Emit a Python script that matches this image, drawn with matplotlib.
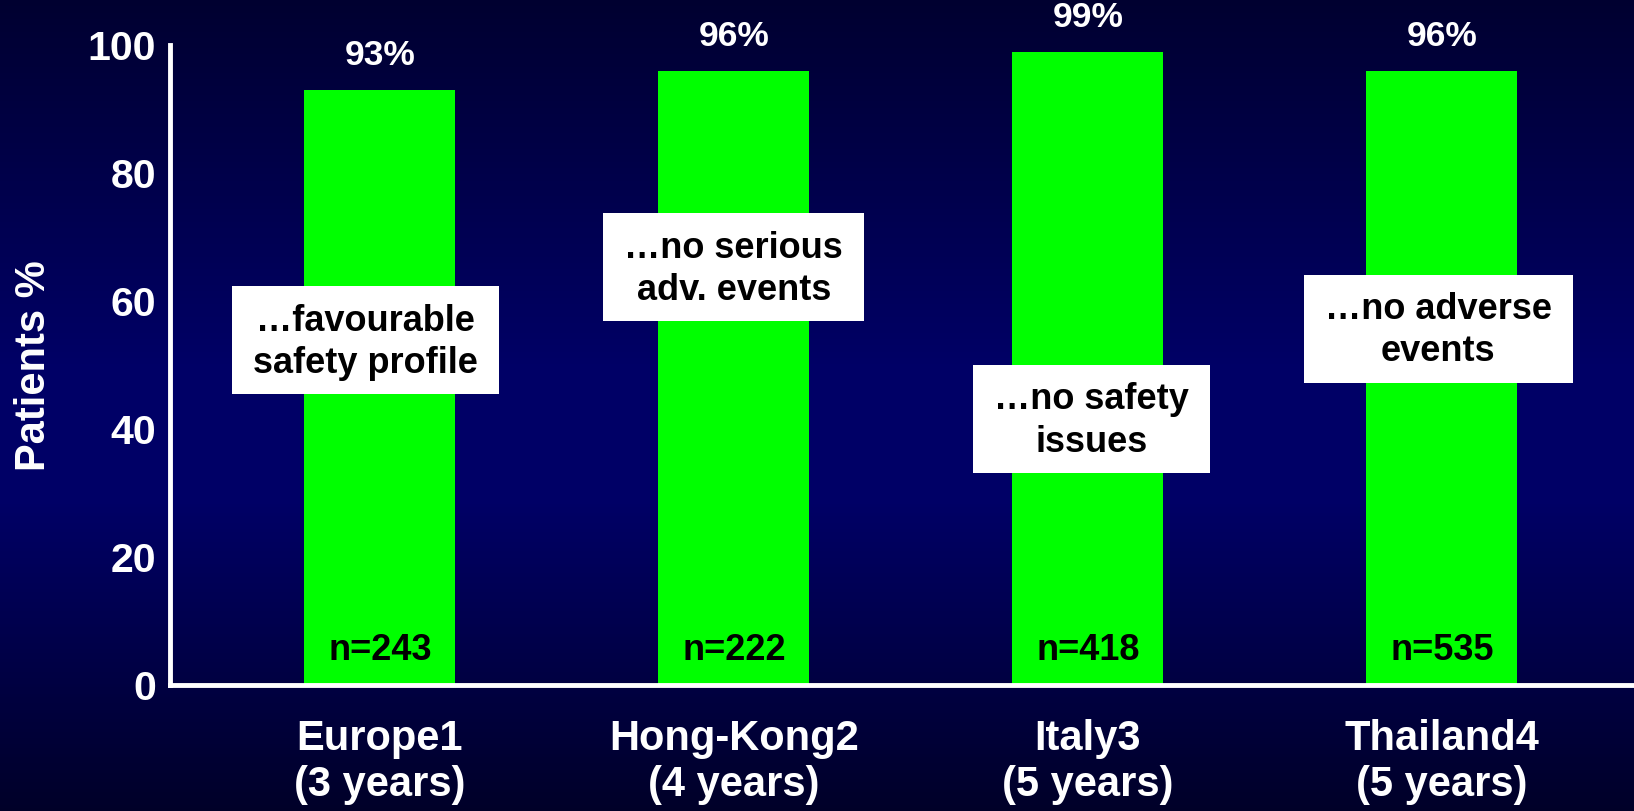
import numpy as np
import matplotlib
matplotlib.use("Agg")
import matplotlib.pyplot as plt
from matplotlib.colors import LinearSegmentedColormap
from matplotlib.patches import Rectangle

plt.rcParams['font.family'] = ['Liberation Sans', 'DejaVu Sans']
plt.rcParams['font.weight'] = 'bold'

studies = ['Europe1\n(3 years)', 'Hong-Kong2\n(4 years)', 'Italy3\n(5 years)', 'Thailand4\n(5 years)']
patients_pct = [93, 96, 99, 96]
n_patients = [243, 222, 418, 535]
notes = ['…favourable\nsafety profile', '…no serious\nadv. events',
         '…no safety\nissues', '…no adverse\nevents']
note_y = [53.6, 65.0, 41.3, 55.4]
note_dx = [-0.04, 0.0, 0.01, -0.01]

fig = plt.figure(figsize=(16.34, 8.11), dpi=100)

# navy background, brighter band across the middle
bg = fig.add_axes([0, 0, 1, 1], zorder=-10)
navy = LinearSegmentedColormap.from_list(
    'navy', [(0, (0, 0, 0.19)), (0.45, (0, 0, 0.40)), (0.62, (0, 0, 0.40)), (1, (0, 0, 0.16))])
grad = np.linspace(0, 1, 256).reshape(-1, 1)
bg.imshow(grad, aspect='auto', cmap=navy, extent=[0, 1, 0, 1])
bg.axis('off')

ax = fig.add_axes([0.104, 0.155, 0.896, 0.789])
ax.patch.set_alpha(0)

x = np.arange(len(studies))
bars = ax.bar(x, patients_pct, width=0.427, color='#00ff00', zorder=2)

for xi, v, n in zip(x, patients_pct, n_patients):
    ax.annotate(f'{v}%', (xi, v), xytext=(0, 18), textcoords='offset points',
                ha='center', va='baseline', color='white', fontsize=25.5, fontweight='bold')
    ax.text(xi, 4, f'n={n}', ha='center', va='baseline', color='black',
            fontsize=26, fontweight='bold', zorder=3)

note_texts = []
for xi, dx, y, txt in zip(x, note_dx, note_y, notes):
    t = ax.text(xi + dx, y, txt, ha='center', va='center', color='black', fontsize=26,
                fontweight='bold', linespacing=1.27, zorder=4)
    note_texts.append(t)

ax.set_xlim(-0.593, 3.543)
ax.set_ylim(0, 100)
ax.set_yticks([0, 20, 40, 60, 80, 100])
ax.set_xticks(x)
ax.set_xticklabels(studies, linespacing=1.2)
ax.tick_params(axis='y', length=0, pad=10, labelsize=29.5, labelcolor='white')
ax.tick_params(axis='x', length=0, pad=24, labelsize=30, labelcolor='white')
for lab in ax.get_xticklabels() + ax.get_yticklabels():
    lab.set_fontweight('bold')

ax.set_ylabel('Patients %', color='white', fontsize=30, fontweight='bold', labelpad=24)

for side in ['top', 'right']:
    ax.spines[side].set_visible(False)
for side in ['left', 'bottom']:
    ax.spines[side].set_color('white')
    ax.spines[side].set_linewidth(3.5)

# white boxes behind the notes: text width plus side margin, fixed height
fig.canvas.draw()
renderer = fig.canvas.get_renderer()
to_data = ax.transData.inverted()
for t in note_texts:
    bb = t.get_window_extent(renderer)
    cy = (bb.y0 + bb.y1) / 2 + 2
    x0, y0 = to_data.transform((bb.x0 - 21, cy - 54))
    x1, y1 = to_data.transform((bb.x1 + 21, cy + 54))
    ax.add_patch(Rectangle((x0, y0), x1 - x0, y1 - y0, fc='white', ec='none', zorder=3.5))

fig.savefig('out.png', dpi=100)
